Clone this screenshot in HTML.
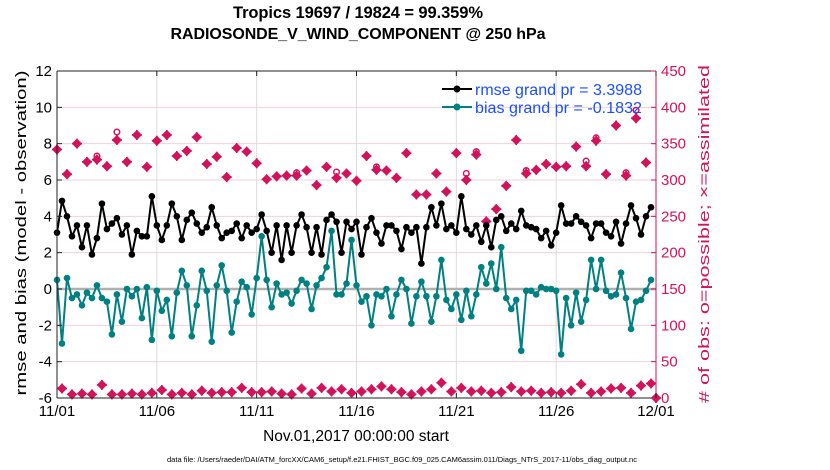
<!DOCTYPE html>
<html><head><meta charset="utf-8"><style>
html,body{margin:0;padding:0;background:#fff;}
svg{display:block;font-family:"Liberation Sans",sans-serif;}
</style></head><body>
<svg id="chart" width="830" height="470" viewBox="0 0 830 470" xmlns="http://www.w3.org/2000/svg">
<text x="358" y="18" text-anchor="middle" font-size="16.5" font-weight="bold" textLength="250">Tropics 19697 / 19824 = 99.359%</text>
<text x="358" y="39" text-anchor="middle" font-size="16" font-weight="bold" textLength="375">RADIOSONDE_V_WIND_COMPONENT @ 250 hPa</text>
<g id="grid"></g>
<g id="marks"></g>
<g id="axes"></g>
<text transform="translate(26,233) rotate(-90)" text-anchor="middle" font-size="14.5" textLength="325" lengthAdjust="spacingAndGlyphs">rmse and bias (model - observation)</text>
<text transform="translate(709,234) rotate(-90)" text-anchor="middle" font-size="14.5" fill="#d3125c" textLength="338" lengthAdjust="spacingAndGlyphs"># of obs: o=possible; ×=assimilated</text>
<text x="356" y="441" text-anchor="middle" font-size="15.5">Nov.01,2017 00:00:00 start</text>
<text x="402" y="462" text-anchor="middle" font-size="7.5">data file: /Users/raeder/DAI/ATM_forcXX/CAM6_setup/f.e21.FHIST_BGC.f09_025.CAM6assim.011/Diags_NTrS_2017-11/obs_diag_output.nc</text>
<g id="legend">
<line x1="442" y1="89" x2="472" y2="89" stroke="#000" stroke-width="2"/>
<circle cx="457" cy="89" r="3.5" fill="#000"/>
<text x="475" y="95" font-size="15.5" fill="#1a4fff" textLength="167" lengthAdjust="spacingAndGlyphs">rmse grand pr = 3.3988</text>
<line x1="442" y1="107" x2="472" y2="107" stroke="#008080" stroke-width="2"/>
<circle cx="457" cy="107" r="3.5" fill="#008080"/>
<text x="475" y="113" font-size="15.5" fill="#1a4fff" textLength="167" lengthAdjust="spacingAndGlyphs">bias grand pr = -0.1832</text>
</g>
</svg>
<script>
const rmse=[3.1,4.85,4.0,2.9,3.5,2.3,3.5,1.9,2.8,4.7,3.3,3.6,3.9,3.0,3.5,1.9,3.2,2.9,2.9,5.1,3.5,2.7,3.5,4.7,4.0,2.7,3.8,4.2,3.6,3.1,3.4,4.5,3.5,2.8,3.1,3.2,3.6,2.8,3.5,3.1,3.3,4.1,3.2,2.0,3.5,1.6,3.5,2.0,3.5,4.1,3.4,2.0,3.4,1.9,3.8,4.1,3.7,2.0,3.7,3.3,3.7,1.9,3.4,3.9,3.1,2.5,3.5,3.5,3.2,2.2,3.4,3.1,3.4,1.4,3.4,4.5,3.5,4.7,3.3,3.5,3.1,5.1,3.3,3.0,3.5,2.6,3.5,2.3,3.8,4.0,3.2,3.6,3.3,4.3,3.5,3.4,3.3,2.8,3.2,2.4,3.1,4.6,3.6,3.6,4.0,3.7,3.5,2.8,3.6,3.6,3.1,2.9,3.7,2.5,3.6,4.6,3.9,3.0,4.0,4.5];
const bias=[0.5,-3.0,0.6,-0.5,-0.3,-0.9,-0.2,-0.5,0.2,-0.5,-0.7,-2.5,-0.3,-1.8,0.0,-0.4,0.0,-1.6,0.1,-2.8,-0.1,-1.2,-0.6,-2.6,-0.2,1.0,0.2,-2.6,-0.9,1.0,-0.1,-2.9,0.2,1.3,-0.1,-2.4,-0.7,0.4,0.1,-1.4,0.6,2.9,0.5,-1.0,0.3,-0.3,-0.2,-0.8,-0.1,0.5,0.3,-1.1,0.2,0.6,1.2,3.2,-0.3,-0.3,0.3,2.7,0.2,-0.7,-0.4,-2.0,-0.3,-0.4,0.0,-1.5,-0.3,0.5,0.0,-1.9,-0.4,0.4,-0.4,-1.8,-0.4,1.6,-0.6,-1.1,-0.3,-1.7,-0.1,-1.5,-0.3,1.2,0.3,1.4,0.0,2.3,-0.5,-1.1,-0.6,-3.4,-0.1,-0.1,-0.3,0.1,0.0,0.0,-0.1,-3.6,-0.5,-2.0,-0.2,-1.8,-0.6,1.6,0.0,1.6,-0.1,-0.4,-0.3,0.9,-0.5,-2.2,-0.7,-0.6,-0.1,0.5];
const obsUsed=[342,13,308,5,350,6,325,5,328,18,319,5,355,5,325,6,362,5,318,7,354,11,362,5,333,7,340,5,359,10,322,7,332,8,304,8,344,14,339,8,323,8,301,9,305,6,306,5,306,13,313,6,293,14,318,9,303,12,309,7,299,9,333,12,314,16,313,12,303,8,337,5,280,9,280,12,309,21,284,9,337,14,300,9,335,10,243,7,260,8,292,15,355,9,309,10,314,7,322,8,318,7,319,10,346,19,319,7,354,9,308,13,375,14,306,7,385,17,324,20,0];
const obsPoss=[342,13,308,5,350,6,325,5,333,18,319,5,366,5,325,6,362,5,318,7,354,11,362,5,335,7,340,5,359,10,322,7,332,8,304,8,344,14,339,8,323,8,301,9,305,6,306,5,310,13,313,6,293,14,318,9,311,12,309,7,299,9,333,12,318,16,313,12,303,8,337,5,280,9,280,12,309,21,284,9,337,14,309,9,339,10,243,7,260,8,292,15,355,9,313,10,314,7,322,8,318,7,319,10,346,19,326,7,358,9,308,13,375,14,310,7,396,17,324,20,0];
const xTicks=['11/01','11/06','11/11','11/16','11/21','11/26','12/01'];
const yTicks=[-6,-4,-2,0,2,4,6,8,10,12];
const y2Ticks=[0,50,100,150,200,250,300,350,400,450];

const NS='http://www.w3.org/2000/svg';
const L=57,R=656,T=71,B=398;
const nDays=30;
function xs(i){return L+(i/4)*(R-L)/nDays;}
function ys(v){return B-(v+6)/18*(B-T);}
function y2s(v){return B-v/450*(B-T);}
function mk(tag,attrs,parent){const e=document.createElementNS(NS,tag);for(const k in attrs)e.setAttribute(k,attrs[k]);parent.appendChild(e);return e;}
const grid=document.getElementById('grid'),marks=document.getElementById('marks'),axes=document.getElementById('axes');
const MAG='#d3125c';
y2Ticks.forEach(v=>{const g=mk('line',{x1:L,x2:R,y1:y2s(v),y2:y2s(v),stroke:'#f3cfdc','stroke-width':1},grid);

});
xTicks.forEach((t,k)=>{const x=xs(k*20);const g=mk('line',{x1:x,x2:x,y1:T,y2:B,stroke:'#dcdcdc','stroke-width':1},grid);

});
const z=mk('line',{x1:L,x2:R,y1:ys(0),y2:ys(0),stroke:'#b0b0b0','stroke-width':2.5},grid);


function star(x,y,p){const s=4;
const g=mk('g',{stroke:MAG,'stroke-width':1.6,fill:MAG},p);
mk('path',{d:`M${x} ${y-s}L${x+s} ${y}L${x} ${y+s}L${x-s} ${y}Z`},g);
mk('path',{d:`M${x-s-1} ${y}H${x+s+1}M${x} ${y-s-1}V${y+s+1}`},g);
return g;}
obsUsed.forEach((v,i)=>{
 if(obsPoss[i]-v>=4){const c=mk('circle',{cx:xs(i),cy:y2s(obsPoss[i]),r:2.8,fill:'none',stroke:MAG,'stroke-width':1.5},marks);
 
 }
 const g=star(xs(i),y2s(v),marks);
 
 
});
function series(arr,color,name){
 const pts=arr.map((v,i)=>xs(i)+','+ys(v)).join(' ');
 const pl=mk('polyline',{points:pts,fill:'none',stroke:color,'stroke-width':2},marks);
 
 
 arr.forEach((v,i)=>{const c=mk('circle',{cx:xs(i),cy:ys(v),r:3.3,fill:color},marks);
 
 });
}
series(bias,'#008080','bias');
series(rmse,'#000','rmse');
mk('line',{x1:L,x2:R,y1:T,y2:T,stroke:'#222','stroke-width':1},axes);
mk('line',{x1:L,x2:R,y1:B,y2:B,stroke:'#222','stroke-width':1},axes);
mk('line',{x1:L,x2:L,y1:T,y2:B,stroke:'#222','stroke-width':1},axes);
mk('line',{x1:R,x2:R,y1:T,y2:B,stroke:MAG,'stroke-width':1},axes);
yTicks.forEach(v=>{mk('line',{x1:L,x2:L+5,y1:ys(v),y2:ys(v),stroke:'#222'},axes);
 const t=mk('text',{x:L-5,y:ys(v)+5,'text-anchor':'end','font-size':15},axes);t.textContent=v;
 
 });
y2Ticks.forEach(v=>{mk('line',{x1:R-5,x2:R,y1:y2s(v),y2:y2s(v),stroke:MAG},axes);
 const t=mk('text',{x:R+5,y:y2s(v)+5,'font-size':15,fill:MAG},axes);t.textContent=v;
 
 });
xTicks.forEach((s,k)=>{const x=xs(k*20);mk('line',{x1:x,x2:x,y1:B-5,y2:B,stroke:'#222'},axes);mk('line',{x1:x,x2:x,y1:T,y2:T+5,stroke:'#222'},axes);
 const t=mk('text',{x:x,y:416,'text-anchor':'middle','font-size':15},axes);t.textContent=s;
 
 });
</script>
</body></html>
